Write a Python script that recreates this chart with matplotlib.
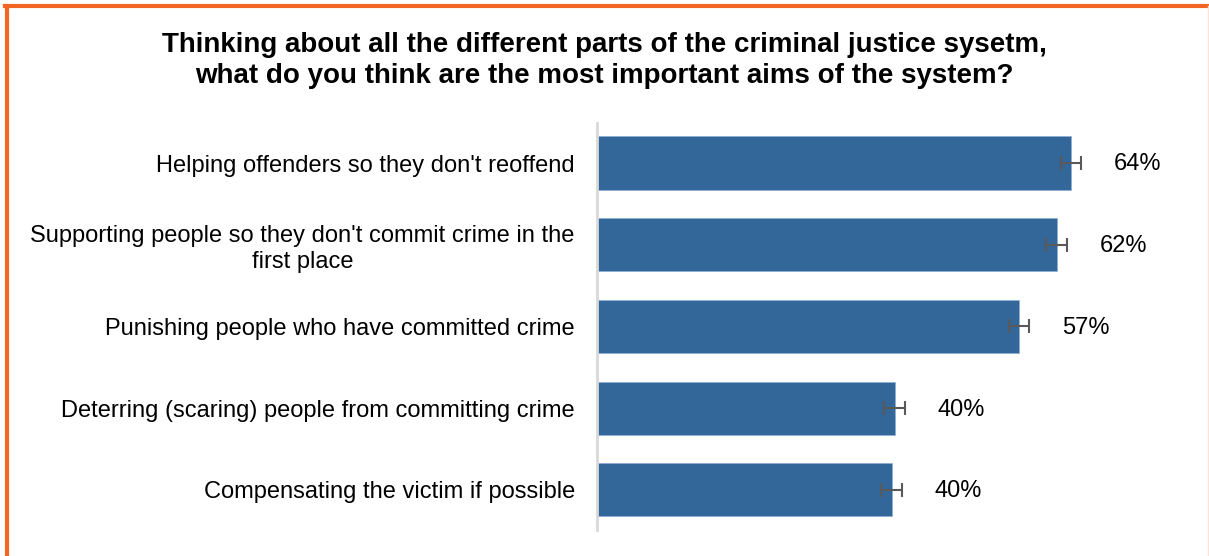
import matplotlib
matplotlib.use("Agg")
import matplotlib.pyplot as plt
from matplotlib.lines import Line2D

plt.rcParams["font.family"] = ["Liberation Sans", "DejaVu Sans"]

categories = [
    "Helping offenders so they don't reoffend",
    "Supporting people so they don't commit crime in the\nfirst place",
    "Punishing people who have committed crime",
    "Deterring (scaring) people from committing crime",
    "Compensating the victim if possible",
]
values = [64.0, 62.1, 57.0, 40.2, 39.8]
errors = [1.4, 1.4, 1.4, 1.4, 1.4]
labels = ["64%", "62%", "57%", "40%", "40%"]

BAR = "#336699"
fig = plt.figure(figsize=(12.09, 5.56), dpi=100)
ax = fig.add_axes([0.4938, 0.0468, 0.49, 0.732])

y = range(len(categories))
ax.barh(y, values, height=0.65, color=BAR, edgecolor="#8fb0d4", linewidth=0.6,
        xerr=errors, error_kw=dict(ecolor="#595959", elinewidth=1.5, capsize=5,
                                   capthick=1.5))
for yi, v, lab in zip(y, values, labels):
    ax.annotate(lab, (v, yi), xytext=(31, -1), textcoords="offset points",
                ha="left", va="center", fontsize=17)

ax.set_xlim(0, 80)
ax.set_ylim(4.49, -0.49)
ax.set_yticks(list(y))
ax.set_yticklabels(categories, fontsize=17, multialignment="center", linespacing=1.22)
ax.tick_params(axis="y", length=0, pad=16)
ax.set_xticks([])
for s in ("top", "right", "bottom"):
    ax.spines[s].set_visible(False)
ax.spines["left"].set_color("#d9d9d9")
ax.spines["left"].set_linewidth(2)

fig.text(0.5, 0.891, "Thinking about all the different parts of the criminal justice sysetm,\n"
         "what do you think are the most important aims of the system?",
         ha="center", va="center", fontsize=20, fontweight="bold", linespacing=1.22)

# orange frame (top and left)
fig.add_artist(Line2D([6.5 / 1209, 6.5 / 1209], [0, 1 - 6 / 556], color="#f26522",
                      linewidth=3, transform=fig.transFigure))
fig.add_artist(Line2D([5 / 1209, 1], [1 - 6 / 556, 1 - 6 / 556], color="#f26522",
                      linewidth=3, transform=fig.transFigure))
fig.add_artist(Line2D([1207.5 / 1209, 1207.5 / 1209], [0, 1 - 6 / 556], color="#fde3d6",
                      linewidth=1, transform=fig.transFigure))

fig.savefig("out.png", dpi=100)
